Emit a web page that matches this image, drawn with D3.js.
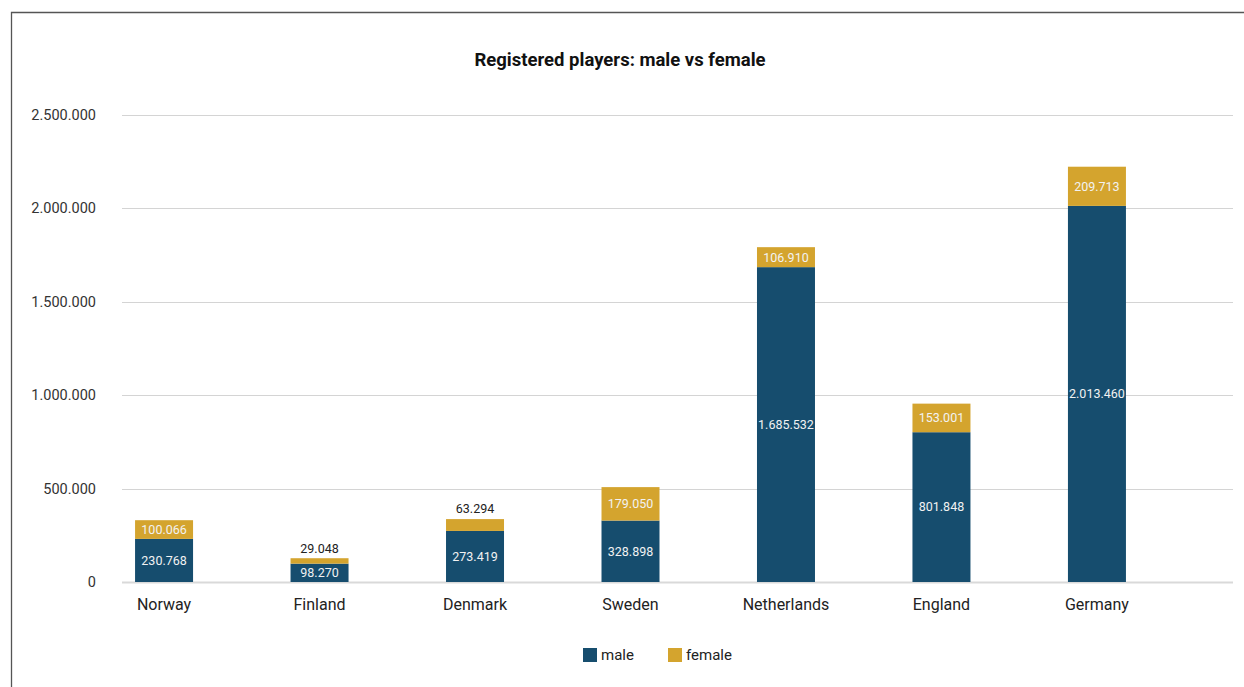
<!DOCTYPE html>
<html>
<head>
<meta charset="utf-8">
<script src="https://cdn.jsdelivr.net/npm/d3@7"></script>
<style>
  body { margin: 0; background: #fff; }
  text { font-family: Roboto, "Noto Sans", sans-serif; }
  .tick-label { fill: #333; font-size: 14.5px; }
  .cat-label { fill: #222; font-size: 16px; }
</style>
</head>
<body>
<div id="chart"></div>
<script>
// data
const countries = ["Norway", "Finland", "Denmark", "Sweden", "Netherlands", "England", "Germany"];
const male = [230768, 98270, 273419, 328898, 1685532, 801848, 2013460];
const female = [100066, 29048, 63294, 179050, 106910, 153001, 209713];
const series = ["male", "female"];
const yTicks = [0, 500000, 1000000, 1500000, 2000000, 2500000];

const width = 1244, height = 687;
const colors = {male: "#164d6e", female: "#d4a42e"};

const locale = d3.formatLocale({decimal: ",", thousands: ".", grouping: [3], currency: ["", ""]});
const fmt = locale.format(",.0f");

const svg = d3.select("#chart").append("svg")
    .attr("width", width)
    .attr("height", height);

// frame
svg.append("path")
    .attr("d", "M11.5," + height + "V12.5H" + width)
    .attr("fill", "none")
    .attr("stroke", "#555")
    .attr("stroke-width", 1.3);

svg.append("text")
    .attr("x", 620)
    .attr("y", 66)
    .attr("text-anchor", "middle")
    .attr("font-size", 18.5)
    .attr("font-weight", "bold")
    .attr("fill", "#111")
    .text("Registered players: male vs female");

const x = d3.scaleBand()
    .domain(countries)
    .range([122, 1139])
    .paddingInner(0.627)
    .paddingOuter(0.084);

const y = d3.scaleLinear()
    .domain([0, 2500000])
    .range([582, 115]);

// gridlines
svg.append("g").selectAll("line")
    .data(yTicks)
    .enter()
    .append("line")
    .attr("x1", 122)
    .attr("x2", 1233)
    .attr("y1", d => Math.round(y(d)) + 0.5)
    .attr("y2", d => Math.round(y(d)) + 0.5)
    .attr("stroke-width", d => d === 0 ? 2 : 1)
    .attr("stroke", d => d === 0 ? "#d9d9d9" : "#d4d4d4");

svg.selectAll(".tick-label")
    .data(yTicks)
    .enter()
    .append("text")
    .attr("class", "tick-label")
    .attr("x", 96)
    .attr("y", d => y(d))
    .attr("dy", "0.35em")
    .attr("text-anchor", "end")
    .text(d => fmt(d));

const rows = countries.map((c, i) => ({country: c, male: male[i], female: female[i]}));
const stacked = d3.stack().keys(series)(rows);

const layers = svg.selectAll(".layer")
    .data(stacked)
    .enter()
    .append("g")
    .attr("class", "layer")
    .attr("fill", d => colors[d.key]);

layers.selectAll("rect")
    .data(d => d)
    .enter()
    .append("rect")
    .attr("x", d => x(d.data.country))
    .attr("width", x.bandwidth())
    .attr("y", d => y(d[1]))
    .attr("height", d => y(d[0]) - y(d[1]));

// value labels, small segments get theirs above the bar
stacked.forEach(layer => {
    svg.append("g").selectAll("text")
        .data(layer)
        .enter()
        .append("text")
        .attr("x", d => x(d.data.country) + x.bandwidth() / 2)
        .attr("y", d => {
            let h = y(d[0]) - y(d[1]);
            return h < 15 ? y(d[1]) - 10 : (y(d[0]) + y(d[1])) / 2;
        })
        .attr("dy", "0.35em")
        .attr("text-anchor", "middle")
        .attr("font-size", 12.5)
        .attr("fill", d => (y(d[0]) - y(d[1]) < 15) ? "#222" : "#f2f2f2")
        .text(d => fmt(d.data[layer.key]));
});

svg.selectAll(".cat-label")
    .data(countries)
    .enter()
    .append("text")
    .attr("class", "cat-label")
    .attr("x", d => x(d) + x.bandwidth() / 2)
    .attr("y", 610)
    .attr("text-anchor", "middle")
    .text(d => d);

// legend
const legend = svg.append("g").attr("transform", "translate(583,648)");
const items = legend.selectAll("g")
    .data(series)
    .enter()
    .append("g")
    .attr("transform", (d, i) => "translate(" + (i * 85) + ",0)");
items.append("rect")
    .attr("width", 14)
    .attr("height", 14)
    .attr("fill", d => colors[d]);
items.append("text")
    .attr("x", 18)
    .attr("y", 7)
    .attr("dy", "0.35em")
    .attr("font-size", 15)
    .attr("fill", "#222")
    .text(d => d);
</script>
</body>
</html>
